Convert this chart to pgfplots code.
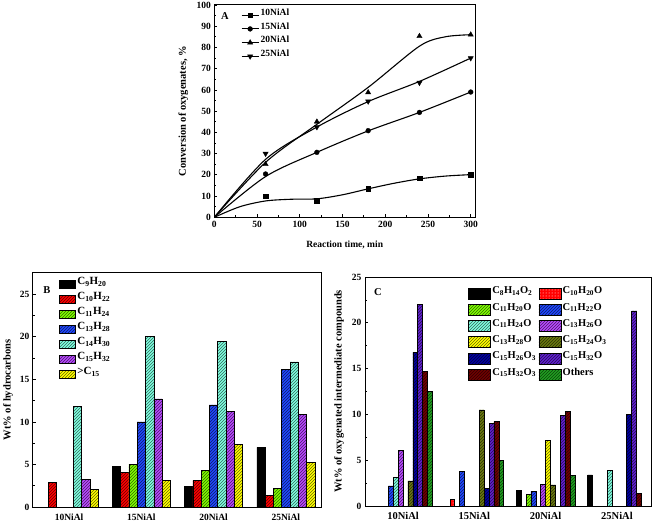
\documentclass[border=0pt]{standalone}
\usepackage{fontspec}
\setmainfont{Liberation Serif}
\usepackage{pgfplots}
\pgfplotsset{compat=1.18}
\usetikzlibrary{patterns}

\definecolor{cRed}{HTML}{FF0000}
\definecolor{cLime}{HTML}{80FF00}
\definecolor{cBlue}{HTML}{2048FF}
\definecolor{cAqua}{HTML}{80FFE0}
\definecolor{cMag}{HTML}{B848FF}
\definecolor{cYel}{HTML}{FFFF00}
\definecolor{cOlive}{HTML}{6B7A10}
\definecolor{cNavy}{HTML}{0000A0}
\definecolor{cViolet}{HTML}{6020D0}
\definecolor{cMaroon}{HTML}{700000}
\definecolor{cGreen}{HTML}{20A020}

\tikzset{hb/.style={fill=#1, draw=black, line width=0.6pt,
  postaction={pattern=north east lines, pattern color=#1!40!black}}}

\pgfplotsset{
  common/.style={
    scale only axis,
    axis line style={line width=1pt},
    tick align=inside,
    xtick pos=left, ytick pos=left,
    major tick length=3pt, minor tick length=2pt,
    every tick/.style={line width=0.8pt, black},
    /pgf/number format/assume math mode=true,
    tick label style={font=\fontsize{9.5}{10}\selectfont\bfseries},
    label style={font=\fontsize{10.5}{12}\selectfont\bfseries},
  },
}

\begin{document}
\begin{tikzpicture}[x=1pt,y=1pt]
\useasboundingbox (0,0) rectangle (655,524);

% ---------------- Panel A ----------------
\begin{axis}[common,
  at={(214.3pt,306.7pt)}, anchor=south west,
  width=260.7pt, height=212.3pt,
  xmin=0, xmax=305, ymin=0, ymax=100,
  xtick={0,50,...,300}, ytick={0,10,...,100},
  minor x tick num=1, minor y tick num=1,
  xlabel={Reaction time, min},
  ylabel={Conversion of oxygenates, \%},
  xlabel style={at={(axis description cs:0.5,-0.132)}, anchor=center, font=\fontsize{9.5}{11}\selectfont\bfseries},
  ylabel style={at={(axis description cs:-0.119,0.5)}, anchor=center},
  legend style={at={(axis description cs:0.102,0.985)}, anchor=north west,
    draw=none, fill=none, inner sep=0pt, row sep=0pt,
    font=\fontsize{9.5}{10}\selectfont\bfseries,
    nodes={inner sep=1.5pt, text height=5.5pt, text depth=5.2pt}},
  legend cell align=left,
  every axis plot/.append style={
    legend image code/.code={
      \draw[black, line width=1.1pt] (0pt,0pt) -- (17pt,0pt);
      \draw[mark repeat=2, mark phase=2, #1] plot coordinates {(0pt,0pt) (8.5pt,0pt) (17pt,0pt)};
    }},
]
% fitted curves
\addplot[black, line width=1.1pt, smooth, forget plot] coordinates {
  (0,0) (30,5) (60,7.7) (90,8.5) (120,8.7) (150,10.6) (180,13.4) (210,16.0) (240,18.1) (270,19.4) (300,20.1)};
\addplot[black, line width=1.1pt, smooth, forget plot] coordinates {
  (0,0) (60,19.2) (120,30.6) (180,40.7) (240,49.4) (300,59)};
\addplot[black, line width=1.1pt, smooth, forget plot] coordinates {
  (0,0) (60,25.9) (120,43.8) (180,61.2) (240,80.6) (270,85) (300,86)};
\addplot[black, line width=1.1pt, smooth, forget plot] coordinates {
  (0,0) (60,27.3) (120,42.5) (180,54.5) (240,64) (300,75)};
% measured points
\addplot[black, only marks, mark=square*, mark size=2.3pt] coordinates {
  (60,10) (120,7.8) (180,13.4) (240,18.5) (300,20)};
\addlegendentry{10NiAl}
\addplot[black, only marks, mark=*, mark size=2.4pt] coordinates {
  (60,20.4) (120,30.6) (180,40.8) (240,49.4) (300,59)};
\addlegendentry{15NiAl}
\addplot[black, only marks, mark=triangle*, mark size=3pt] coordinates {
  (60,25) (120,45) (180,58.8) (240,85.3) (300,86)};
\addlegendentry{20NiAl}
\addplot[black, only marks, mark=triangle*, mark size=3pt, mark options={rotate=180}] coordinates {
  (60,30) (120,42.5) (180,54.6) (240,63.4) (300,75)};
\addlegendentry{25NiAl}
\node[font=\fontsize{10.5}{12}\selectfont\bfseries] at (rel axis cs:0.041,0.948) {A};
\end{axis}

% ---------------- Panel B ----------------
\begin{axis}[common, ybar,
  at={(33pt,17pt)}, anchor=south west,
  width=289pt, height=234pt,
  xmin=-0.5, xmax=3.5, ymin=0, ymax=27.5,
  xtick={0,1,2,3},
  xticklabels={10NiAl,15NiAl,20NiAl,25NiAl},
  major x tick style={draw=none},
  ytick={0,5,...,25}, minor y tick num=1,
  bar width=0.115,
  ylabel={Wt\% of hydrocarbons},
  ylabel style={at={(axis description cs:-0.0865,0.5)}, anchor=center},
  legend style={at={(axis description cs:0.09,0.985)}, anchor=north west,
    draw=none, fill=none, inner sep=0pt, row sep=0pt,
    font=\fontsize{11}{12}\selectfont\bfseries,
    nodes={inner sep=1.5pt, text height=6.5pt, text depth=5.5pt}},
  legend cell align=left,
  every axis plot/.append style={
    legend image code/.code={\draw[#1] (0pt,-3.6pt) rectangle (16pt,3.6pt);}},
]
\addplot[fill=black, draw=black, bar shift=-0.345] coordinates {(1,4.8) (2,2.4) (3,7.0)};
\addlegendentry{C\textsubscript{9}H\textsubscript{20}}
\addplot[hb=cRed, bar shift=-0.23] coordinates {(0,2.9) (1,4.1) (2,3.1) (3,1.4)};
\addlegendentry{C\textsubscript{10}H\textsubscript{22}}
\addplot[hb=cLime, bar shift=-0.115] coordinates {(1,5.0) (2,4.3) (3,2.15)};
\addlegendentry{C\textsubscript{11}H\textsubscript{24}}
\addplot[hb=cBlue, bar shift=0] coordinates {(1,10.0) (2,12.0) (3,16.2)};
\addlegendentry{C\textsubscript{13}H\textsubscript{28}}
\addplot[hb=cAqua, bar shift=0.115] coordinates {(0,11.85) (1,20.05) (2,19.45) (3,17.05)};
\addlegendentry{C\textsubscript{14}H\textsubscript{30}}
\addplot[hb=cMag, bar shift=0.23] coordinates {(0,3.2) (1,12.7) (2,11.2) (3,10.85)};
\addlegendentry{C\textsubscript{15}H\textsubscript{32}}
\addplot[hb=cYel, bar shift=0.345] coordinates {(0,2.05) (1,3.15) (2,7.4) (3,5.25)};
\addlegendentry{>C\textsubscript{15}}
\node[font=\fontsize{10.5}{12}\selectfont\bfseries] at (rel axis cs:0.048,0.927) {B};
\end{axis}

% ---------------- Panel C ----------------
\begin{axis}[common, ybar,
  at={(365pt,18pt)}, anchor=south west,
  width=286pt, height=229pt,
  xmin=-0.533, xmax=3.477, ymin=0, ymax=25,
  xtick={0,1,2,3},
  xticklabels={10NiAl,15NiAl,20NiAl,25NiAl},
  x tick label style={font=\fontsize{10.5}{11}\selectfont\bfseries},
  major x tick style={draw=none},
  ytick={0,5,...,25}, minor y tick num=1,
  bar width=0.0687,
  ylabel={Wt\% of oxygenated intermediate compounds},
  ylabel style={at={(axis description cs:-0.091,0.5)}, anchor=center},
  legend columns=2,
  legend style={at={(axis description cs:0.36,0.965)}, anchor=north west,
    draw=none, fill=none, inner sep=0pt, row sep=0pt,
    /tikz/column 2/.style={column sep=1pt},
    font=\fontsize{10.5}{12}\selectfont\bfseries,
    nodes={inner sep=1.5pt, text height=7pt, text depth=6.3pt}},
  legend cell align=left,
  every axis plot/.append style={
    legend image code/.code={\draw[#1] (0pt,-5.5pt) rectangle (22pt,5.5pt);}},
]
\addplot[fill=black, draw=black, bar shift=-0.3779] coordinates {(2,1.7) (3,3.4)};
\addlegendentry{C\textsubscript{8}H\textsubscript{14}O\textsubscript{2}}
\addplot[fill=cRed, draw=black, line width=0.6pt, postaction={pattern=dots, pattern color=white}, bar shift=-0.3092] coordinates {(1,0.75)};
\addlegendentry{C\textsubscript{10}H\textsubscript{20}O}
\addplot[hb=cLime, bar shift=-0.2405] coordinates {(2,1.3)};
\addlegendentry{C\textsubscript{11}H\textsubscript{20}O}
\addplot[hb=cBlue, bar shift=-0.1718] coordinates {(0,2.2) (1,3.77) (2,1.6)};
\addlegendentry{C\textsubscript{11}H\textsubscript{22}O}
\addplot[hb=cAqua, bar shift=-0.1031] coordinates {(0,3.1) (3,3.85)};
\addlegendentry{C\textsubscript{11}H\textsubscript{24}O}
\addplot[hb=cMag, bar shift=-0.0344] coordinates {(0,6.1) (2,2.4)};
\addlegendentry{C\textsubscript{13}H\textsubscript{26}O}
\addplot[hb=cYel, bar shift=0.0344] coordinates {(2,7.2)};
\addlegendentry{C\textsubscript{13}H\textsubscript{28}O}
\addplot[hb=cOlive, bar shift=0.1031] coordinates {(0,2.75) (1,10.5) (2,2.3)};
\addlegendentry{C\textsubscript{15}H\textsubscript{24}O\textsubscript{3}}
\addplot[hb=cNavy, bar shift=0.1718] coordinates {(0,16.8) (1,1.9) (3,10.0)};
\addlegendentry{C\textsubscript{15}H\textsubscript{26}O\textsubscript{3}}
\addplot[hb=cViolet, bar shift=0.2405] coordinates {(0,22.0) (1,9.06) (2,9.9) (3,21.3)};
\addlegendentry{C\textsubscript{15}H\textsubscript{32}O}
\addplot[hb=cMaroon, bar shift=0.3092] coordinates {(0,14.7) (1,9.2) (2,10.3) (3,1.4)};
\addlegendentry{C\textsubscript{15}H\textsubscript{32}O\textsubscript{3}}
\addplot[hb=cGreen, bar shift=0.3779] coordinates {(0,12.5) (1,5.0) (2,3.3)};
\addlegendentry{Others}
\node[font=\fontsize{10.5}{12}\selectfont\bfseries] at (rel axis cs:0.045,0.934) {C};
\end{axis}
\end{tikzpicture}
\end{document}
